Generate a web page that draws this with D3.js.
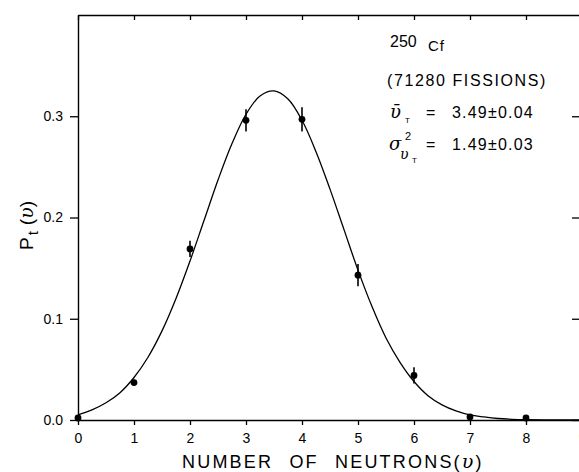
<!DOCTYPE html>
<html><head><meta charset="utf-8">
<script src="https://cdn.jsdelivr.net/npm/d3@7"></script>
<style>
body{margin:0;background:#fff}
svg{display:block}
text{font-family:"Liberation Sans",Arial,sans-serif;fill:#000}
.greek{font-family:"DejaVu Serif",serif;font-style:italic}
</style>
</head><body><svg id="c" width="579" height="472"></svg>
<script>
// measured points
const pointN   = [0, 1, 2, 3, 4, 5, 6, 7, 8];
const pointP   = [0.002, 0.037, 0.169, 0.296, 0.297, 0.143, 0.044, 0.003, 0.002];
const pointErr = [0.001, 0.003, 0.008, 0.011, 0.012, 0.011, 0.008, 0.002, 0.001];
// fitted curve
const curveN = [0,0.25,0.5,0.75,1,1.25,1.5,1.75,2,2.25,2.5,2.75,3,3.25,3.5,3.75,4,4.25,4.5,4.75,5,5.25,5.5,5.75,6,6.25,6.5,6.75,7,7.25,7.5,7.75,8,8.5,9];
const curveP = [0.005,0.010,0.017,0.027,0.042,0.062,0.088,0.120,0.157,0.197,0.237,0.273,0.302,0.320,0.325,0.317,0.296,0.265,0.228,0.188,0.148,0.112,0.081,0.057,0.038,0.024,0.015,0.009,0.005,0.003,0.0015,0.0007,0.0003,0.0001,0];
const xTicks = [0,1,2,3,4,5,6,7,8,9];
const yTicks = [0, 0.1, 0.2, 0.3];
const yTickLabels = ["0.0", "0.1", "0.2", "0.3"];

const svg = d3.select("#c");
const x = d3.scaleLinear().domain([0, 9]).range([78, 582]);
const y = d3.scaleLinear().domain([0, 0.4]).range([420, 15]);

function styleAxis(g){
  g.selectAll("path.domain").attr("stroke","#000").attr("stroke-width",1.4);
  g.selectAll(".tick line").attr("stroke","#000").attr("stroke-width",1.3);
  g.selectAll(".tick text").attr("fill","#000").style("font-size","14px")
    .style("font-family",'"Liberation Sans",Arial,sans-serif');
}

svg.append("g").attr("transform","translate(0,420)")
  .call(d3.axisBottom(x).tickValues(xTicks).tickSize(5).tickSizeOuter(0).tickPadding(8).tickFormat(d3.format("d")))
  .call(styleAxis);
svg.append("g").attr("transform","translate(0,15)")
  .call(d3.axisTop(x).tickValues(xTicks).tickSize(-5).tickSizeOuter(0).tickFormat(""))
  .call(styleAxis);
svg.append("g").attr("transform","translate(78,0)")
  .call(d3.axisLeft(y).tickValues(yTicks).tickSize(8).tickSizeOuter(0).tickPadding(7)
    .tickFormat((d,i)=>yTickLabels[i]))
  .call(styleAxis);
svg.append("g").attr("transform","translate(582,0)")
  .call(d3.axisRight(y).tickValues(yTicks).tickSize(-10).tickSizeOuter(0).tickFormat(""))
  .call(styleAxis);

// curve
const line = d3.line().x((d,i)=>x(curveN[i])).y((d,i)=>y(curveP[i])).curve(d3.curveCatmullRom);
svg.append("path").datum(curveP).attr("d", line)
  .attr("fill","none").attr("stroke","#000").attr("stroke-width",1.3);

// error bars and points
svg.append("g").selectAll("line").data(pointN).join("line")
  .attr("x1",(d)=>x(d)).attr("x2",(d)=>x(d))
  .attr("y1",(d,i)=>y(pointP[i]-pointErr[i])).attr("y2",(d,i)=>y(pointP[i]+pointErr[i]))
  .attr("stroke","#000").attr("stroke-width",1.6);
svg.append("g").selectAll("circle").data(pointN).join("circle")
  .attr("cx",(d)=>x(d)).attr("cy",(d,i)=>y(pointP[i])).attr("r",3.4).attr("fill","#000");

// axis titles
const xt = svg.append("text").attr("x",182).attr("y",468)
  .style("font-size","18px").style("letter-spacing","2.2px").style("word-spacing","9px");
xt.append("tspan").text("NUMBER OF NEUTRONS(");
xt.append("tspan").attr("class","greek").style("font-size","19px").text("υ");
xt.append("tspan").text(")");

const yt = svg.append("text").attr("transform","translate(33,250) rotate(-90)")
  .style("font-size","19px");
yt.append("tspan").text("P");
yt.append("tspan").attr("dy",5).attr("dx",2).style("font-size","15px").text("t");
yt.append("tspan").attr("dy",-5).attr("dx",6).text("(");
yt.append("tspan").attr("class","greek").text("υ");
yt.append("tspan").text(")");

// annotations
const ann = svg.append("g");
ann.append("text").attr("x",390).attr("y",47).style("font-size","16px").text("250");
ann.append("text").attr("x",428).attr("y",51).style("font-size","15px").style("letter-spacing","1px").text("Cf");
ann.append("text").attr("x",387).attr("y",86).style("font-size","16px").style("letter-spacing","1.6px").text("(71280 FISSIONS)");

ann.append("text").attr("x",390).attr("y",118).attr("class","greek").style("font-size","18px").text("υ\u0304");
ann.append("text").attr("x",405).attr("y",123).style("font-size","8px").text("T");
ann.append("text").attr("x",426).attr("y",118).style("font-size","16px").text("=");
ann.append("text").attr("x",452).attr("y",118).style("font-size","16px").style("letter-spacing","1.2px").text("3.49±0.04");

ann.append("text").attr("x",389).attr("y",150).attr("class","greek").style("font-size","18px").text("σ");
ann.append("text").attr("x",405).attr("y",140).style("font-size","11px").text("2");
ann.append("text").attr("x",400).attr("y",159).attr("class","greek").style("font-size","14px").text("υ");
ann.append("text").attr("x",412).attr("y",163).style("font-size","8px").text("T");
ann.append("text").attr("x",426).attr("y",150).style("font-size","16px").text("=");
ann.append("text").attr("x",452).attr("y",150).style("font-size","16px").style("letter-spacing","1.2px").text("1.49±0.03");
</script>
</body></html>
